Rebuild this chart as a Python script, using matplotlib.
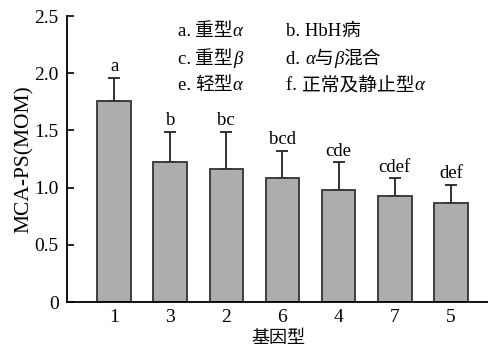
import matplotlib
matplotlib.use("Agg")
import matplotlib.pyplot as plt
from matplotlib.offsetbox import TextArea, HPacker, AnnotationBbox

# Genotype groups, ordered as shown
genotypes = ["1", "3", "2", "6", "4", "7", "5"]
means = [1.76, 1.22, 1.16, 1.08, 0.98, 0.93, 0.87]
sd = [0.20, 0.27, 0.33, 0.24, 0.24, 0.15, 0.15]
letters = ["a", "b", "bc", "bcd", "cde", "cdef", "def"]

# legend entries: list of (text, kind) pieces
legend_items = [
    [("a. ", "lat"), ("重型", "cjk"), ("α", "it")],
    [("b. HbH", "lat"), ("病", "cjk")],
    [("c. ", "lat"), ("重型", "cjk"), ("β", "it")],
    [("d. ", "lat"), ("α", "it"), ("与", "cjk"), ("β", "it"), ("混合", "cjk")],
    [("e. ", "lat"), ("轻型", "cjk"), ("α", "it")],
    [("f. ", "lat"), ("正常及静止型", "cjk"), ("α", "it")],
]

serif = "Liberation Serif"
cjk = "Noto Sans CJK SC"
plt.rcParams["font.family"] = [serif, cjk]

fig = plt.figure(figsize=(4.89, 3.48), dpi=100)
ax = fig.add_axes([0.137, 0.132, 0.863, 0.822])

x = list(range(len(genotypes)))
ax.bar(x, means, width=0.6, color="#adadad", edgecolor="#333333", linewidth=1.3, zorder=2)
ax.errorbar(x, means, yerr=[[0] * len(sd), sd], fmt="none", ecolor="#222222",
            elinewidth=1.3, capsize=4, capthick=1.3, zorder=1)

for xi, m, s, lab in zip(x, means, sd, letters):
    ax.text(xi, m + s + 0.025, lab, ha="center", va="bottom", fontsize=13.5, family=serif)

ax.set_xlim(-0.84, 6.68)
ax.set_ylim(0, 2.5)
ax.set_xticks(x)
ax.set_xticklabels(genotypes)
ax.set_yticks([0, 0.5, 1.0, 1.5, 2.0, 2.5])
ax.set_yticklabels(["0", "0.5", "1.0", "1.5", "2.0", "2.5"])
ax.tick_params(axis="x", direction="in", length=7, width=1.2, labelsize=14, pad=5)
ax.tick_params(axis="y", direction="in", length=5, width=1.2, labelsize=14, pad=6)
for t in ax.get_xticklabels() + ax.get_yticklabels():
    t.set_family(serif)

for side in ["top", "right"]:
    ax.spines[side].set_visible(False)
for side in ["left", "bottom"]:
    ax.spines[side].set_linewidth(1.3)

ax.set_ylabel("MCA-PS(MOM)", fontsize=15.5, family=serif, labelpad=0)
ax.set_xlabel("基因型", fontsize=13, family=cjk, va="bottom")
ax.xaxis.set_label_coords(0.5, -0.157)

styles = {
    "lat": dict(family=serif, fontsize=13.5),
    "cjk": dict(family=cjk, fontsize=13.5),
    "it": dict(family=serif, fontsize=13.5, style="italic"),
}
col_x = [0.262, 0.52]
row_y = [0.948, 0.853, 0.759]
for i, item in enumerate(legend_items):
    boxes = [TextArea(txt, textprops=styles[k]) for txt, k in item]
    pack = HPacker(children=boxes, align="baseline", pad=0, sep=0)
    ab = AnnotationBbox(pack, (col_x[i % 2], row_y[i // 2]), xycoords="axes fraction",
                        box_alignment=(0, 0.5), frameon=False, pad=0)
    ax.add_artist(ab)

fig.savefig("out.png", dpi=100)
